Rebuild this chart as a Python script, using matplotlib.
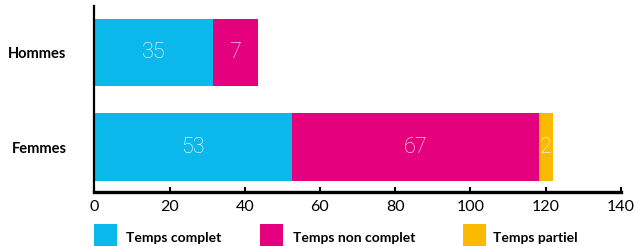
import matplotlib
matplotlib.use("Agg")
import matplotlib.pyplot as plt
from matplotlib.patches import Rectangle
import numpy as np

categories = ["Femmes", "Hommes"]
series_names = ["Temps complet", "Temps non complet", "Temps partiel"]
colors = ["#0BB8EC", "#E5007E", "#FBB900"]
# bar lengths as drawn in the picture
temps_complet = [52.5, 31.6]
temps_non_complet = [65.7, 11.9]
temps_partiel = [3.7, 0.0]
# printed labels
labels_complet = ["53", "35"]
labels_non_complet = ["67", "7"]
labels_partiel = ["2", ""]
xticks = [0, 20, 40, 60, 80, 100, 120, 140]

W, H = 635, 246
fig = plt.figure(figsize=(W / 100, H / 100), dpi=100)
ax = fig.add_axes([94.3 / W, 1 - 192 / H, (620.8 - 94.3) / W, 186 / H])

y = np.arange(len(categories))
bar_h = 0.714
left = np.zeros(len(categories))
series = [temps_complet, temps_non_complet, temps_partiel]
labels = [labels_complet, labels_non_complet, labels_partiel]
for vals, labs, col in zip(series, labels, colors):
    vals = np.array(vals)
    ax.barh(y, vals, left=left, height=bar_h, color=col, edgecolor="none")
    for yi, l, v, t in zip(y, left, vals, labs):
        if v > 0 and t:
            ax.text(l + v / 2, yi, t, ha="center", va="center", color="white",
                    fontsize=15.5, fontfamily="Roboto", fontweight="light")
    left = left + vals

ax.set_xlim(0, 140)
ax.set_ylim(-0.476, -0.476 + 186 / 94.5)
ax.set_xticks(xticks)
ax.set_xticklabels([str(t) for t in xticks], fontfamily="Lato", fontsize=11.5)
ax.set_yticks(y)
ax.set_yticklabels(categories, fontfamily="Lato", fontweight="bold", fontsize=10.5)
ax.tick_params(axis="y", length=0, pad=20)
ax.tick_params(axis="x", direction="in", length=3.5, width=1.5, pad=6, colors="black")
for s in ["top", "right"]:
    ax.spines[s].set_visible(False)
ax.spines["bottom"].set_linewidth(2.4)
ax.spines["left"].set_linewidth(1.6)
for lab in ax.get_yticklabels():
    lab.set_ha("right")

# legend
sq_x = [94, 260, 463]
tx_x = [126, 293, 493]
for name, col, sx, tx in zip(series_names, colors, sq_x, tx_x):
    fig.add_artist(Rectangle((sx / W, 0), 23 / W, 22 / H, transform=fig.transFigure,
                             color=col, lw=0))
    fig.text(tx / W, 1 - 241.5 / H, name, fontfamily="Lato", fontweight="bold",
             fontsize=10, va="baseline", ha="left")

fig.savefig("out.png", dpi=100)
